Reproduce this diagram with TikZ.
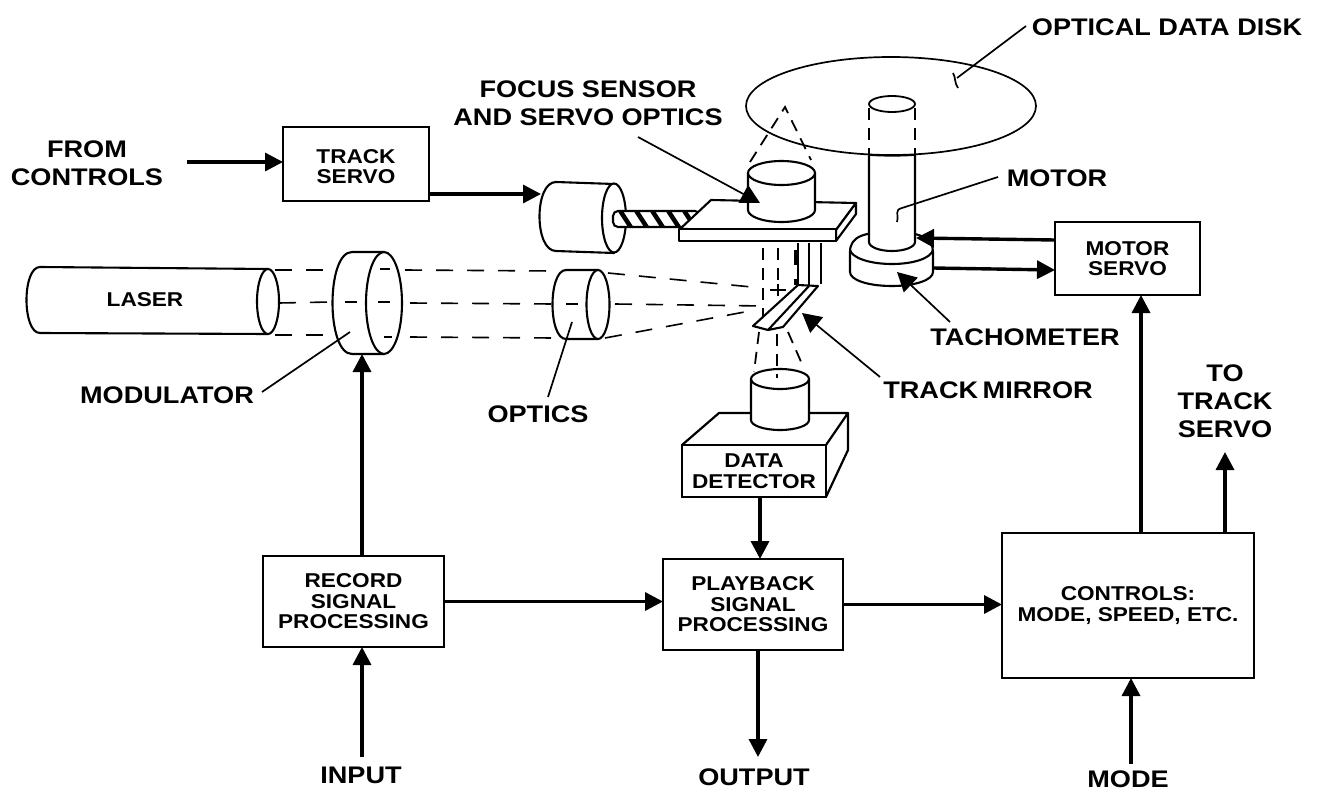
\documentclass[tikz,border=0pt]{standalone}
\usepackage{fontspec}
\setmainfont{Liberation Sans}[BoldFont={Liberation Sans Bold},BoldFeatures={FakeStretch=1.13}]
\usetikzlibrary{arrows.meta}
\newcommand{\bigtxt}{\fontsize{24}{28}\selectfont\bfseries}
\newcommand{\smalltxt}{\fontsize{20}{20.5}\selectfont\bfseries}
\tikzset{
  x=1pt,y=-1pt,
  every node/.style={inner sep=0pt,outer sep=0pt},
  lab/.style={align=center,font=\bigtxt},
  boxed/.style={draw,line width=2.4pt,fill=white,align=center,font=\smalltxt,minimum width=#1},
  flow/.style={line width=3.4pt,-{Triangle[length=18pt,width=18pt]}},
  leader/.style={line width=1.7pt},
  pointer/.style={line width=1.7pt,-{Triangle[length=19pt,width=20pt]}},
  outline/.style={line width=2.1pt,fill=white,line join=round},
  beam/.style={line width=1.6pt,dash pattern=on 17pt off 14pt},
  shortbeam/.style={line width=1.8pt,dash pattern=on 12pt off 8pt},
}
\begin{document}
\begin{tikzpicture}
\useasboundingbox (0,0) rectangle (1318,792);

% Boxes
\node[boxed=146pt,minimum height=74pt] (ts) at (356,164) {\rule{0pt}{19pt}TRACK\\SERVO};
\node[boxed=145pt,minimum height=73pt] (ms) at (1127.5,258.5) {MOTOR\\SERVO};
\node[boxed=181pt,minimum height=91pt] (rec) at (353.5,601.5) {RECORD\\SIGNAL\\PROCESSING};
\node[boxed=180pt,minimum height=91pt] (pb) at (753,604.5) {PLAYBACK\\SIGNAL\\PROCESSING};
\node[boxed=252pt,minimum height=145pt] (ctl) at (1128,605.5) {CONTROLS:\\MODE, SPEED, ETC.};

% Text labels
\node[lab] (fc) at (87,163) {FROM\\CONTROLS};
\node[lab] (fs) at (588,103) {FOCUS SENSOR\\AND SERVO OPTICS};
\node[lab] (odd) at (1167,27) {OPTICAL DATA DISK};
\node[lab] (mot) at (1057,178) {MOTOR};
\node[lab] (tach) at (1025,337) {TACHOMETER};
\node[lab] (tm) at (988,390) {TRACK\hspace{-3pt} MIRROR};
\node[lab] (opt) at (538,414) {OPTICS};
\node[lab] (modl) at (167,395) {MODULATOR};
\node[lab] (tts) at (1225,401) {TO\\TRACK\\SERVO};
\node[lab] (inp) at (361,775) {INPUT};
\node[lab] (outp) at (754,777) {OUTPUT};
\node[lab] (mode) at (1128,779) {MODE};

% Laser
\draw[outline] (268,269) -- (40,267) .. controls (22,267) and (22,333) .. (40,333) -- (268,334);
\draw[outline] (268,301.5) ellipse [x radius=11,y radius=32.5];
\node[font=\smalltxt] (las) at (145,300) {LASER};

% Modulator
\draw[outline] (352,252) -- (384,252) -- (384,354) -- (352,354) .. controls (326,354) and (326,252) .. (352,252) -- cycle;
\draw[line width=2.1pt,fill=white] (384,303) ellipse [x radius=18,y radius=51];

% Optics
\draw[outline] (566,270) -- (598,270) -- (598,339) -- (566,339) .. controls (548,339) and (548,270) .. (566,270) -- cycle;
\draw[line width=2.1pt,fill=white] (598,304.5) ellipse [x radius=11.5,y radius=34.5];

% Beams
\draw[beam] (275,270) -- (335,270);
\draw[beam] (279,303) -- (330,302);
\draw[beam] (275,335) -- (330,335);
\draw[shortbeam] (380,269) -- (390,269);
\draw[shortbeam] (345,302) -- (360,302);
\draw[shortbeam] (378,302) -- (394,302);
\draw[shortbeam] (384,337) -- (392,337);
\draw[beam] (405,270) -- (553,271);
\draw[beam] (410,303) -- (553,304);
\draw[beam] (410,337) -- (553,338);
\draw[shortbeam] (566,304) -- (578,304);
\draw[beam] (608,273) -- (762,288);
\draw[beam] (615,304) -- (764,306);
\draw[beam] (605,338) -- (750,311);
\draw[line width=1.8pt] (770,290) -- (786,290) (778,284) -- (778,296);

% Motor cylinder and lead screw
\draw[outline] (556,182) -- (614,184) -- (614,253) -- (556,251) .. controls (534,251) and (534,182) .. (556,182) -- cycle;
\draw[line width=2.1pt,fill=white] (614,218) ellipse [x radius=12,y radius=34.5];
\draw[line width=2.1pt,fill=white,rounded corners=5pt] (613,211) rectangle (700,227);
\begin{scope}
\clip (613,211) rectangle (700,227);
\foreach \sx in {619,635,651,667,683}
  \draw[line width=4.5pt] (\sx,209) -- (\sx+13,229);
\end{scope}

% Platform
\draw[outline] (680,229) -- (711,200) -- (856,203) -- (836,230) -- cycle;
\draw[outline] (836,230) -- (856,203) -- (856,214) -- (836,241) -- cycle;
\draw[outline] (679,229) rectangle (836,241);

% Upper lens
\draw[outline] (748,173) -- (748,210) arc[start angle=180,end angle=0,x radius=33.5,y radius=12] -- (815,173);
\draw[line width=2.1pt,fill=white] (781.5,173) ellipse [x radius=33.5,y radius=12];
\draw[shortbeam] (750,162) -- (785,107) -- (811,160);

% Track mirror
\draw[line width=2.1pt] (798,243) -- (798,284) (809,243) -- (809,286) (821,243) -- (821,284);
\draw[outline] (753,326) -- (798,285) -- (818,286) -- (783,327) -- (768,330) -- cycle;
\draw[line width=2.1pt] (809,286) -- (768,330);
\draw[line width=3pt] (795,250) -- (795,265) (795,279) -- (795,285);
\draw[shortbeam] (763,248) -- (763,316);
\draw[shortbeam] (778,248) -- (778,282);

% Detector optics
\draw[shortbeam] (759,332) -- (754,372);
\draw[shortbeam] (777,334) -- (777,378);
\draw[shortbeam] (788,332) -- (802,364);
\draw[outline] (751,379) -- (751,420) arc[start angle=180,end angle=0,x radius=29,y radius=10] -- (809,379);
\draw[line width=2.1pt,fill=none] (780,379) ellipse [x radius=29,y radius=10];

% Data detector
\draw[line width=2.2pt,line join=round] (751,413) -- (719,413) -- (682,445);
\draw[line width=2.2pt,line join=round] (809,413) -- (848,413) -- (826,445);
\draw[line width=2.2pt] (848,413) -- (848,450) -- (826,497);
\node[draw,line width=2.4pt,fill=white,minimum width=144pt,minimum height=52pt,align=center,font=\smalltxt] (dd) at (754,471) {DATA\\DETECTOR};

% Disk and spindle
\draw[line width=1.7pt] (891,106) ellipse [x radius=145,y radius=49];
\draw[shortbeam] (869,108) -- (869,154);
\draw[shortbeam] (915,108) -- (915,154);
\draw[line width=1.8pt,fill=white] (892,104) ellipse [x radius=23,y radius=8];
\draw[outline] (850,252) .. controls (850,236) and (865,232) .. (892,232) .. controls (920,232) and (933,238) .. (933,252) -- (933,272) .. controls (933,280) and (915,286) .. (892,286) .. controls (868,286) and (850,280) .. (850,272) -- cycle;
\draw[line width=2.1pt] (850,250) .. controls (852,258) and (870,264) .. (892,264) .. controls (914,264) and (931,258) .. (933,250);
\draw[outline] (869,155) -- (869,242) arc[start angle=180,end angle=0,x radius=23,y radius=9] -- (915,155);
\draw[line width=1.7pt] (869,155) .. controls (885,156) and (900,156) .. (915,155);

% Coordinates on the drawn shapes
\coordinate (cyl) at (541,194);
\coordinate (modb) at (362,354);
\coordinate (fct) at (187,162);
\coordinate (mtr) at (916,238);
\coordinate (bse) at (933,268);
\coordinate (inS) at (362,757);
\coordinate (modeS) at (1131,764);
\coordinate (outE) at (758,757);
\coordinate (ttsE) at (1225,452);

% Flow arrows
\draw[flow] (fct) -- (fct -| ts.west);
\draw[flow] (ts.east |- cyl) -- (cyl);
\draw[flow] (rec.north -| modb) -- (modb);
\draw[flow] (rec.east) -- (pb.west |- rec.east);
\draw[flow] (pb.east) -- (ctl.west |- pb.east);
\draw[flow] (dd.south -| 760,0) -- (pb.north -| 760,0);
\draw[flow] (inS) -- (rec.south -| inS);
\draw[flow] (pb.south -| outE) -- (outE);
\draw[flow] (modeS) -- (ctl.south -| modeS);
\draw[flow] (ctl.north -| 1141,0) -- (ms.south -| 1141,0);
\draw[flow] (ctl.north -| ttsE) -- (ttsE);
\draw[flow] (ms.west |- 0,240) -- (mtr);
\draw[flow] (bse) -- (ms.west |- 0,270);

% Pointers and leaders
\coordinate (fsT) at (760,203);
\coordinate (fsS) at (638,137);
\draw[pointer] (fsS) -- (fsT);
\coordinate (tmT) at (802,313);
\coordinate (tmS) at (880,377);
\draw[pointer] (tmS) -- (tmT);
\coordinate (taT) at (897,272);
\coordinate (taS) at (950,322);
\draw[pointer] (taS) -- (taT);
\coordinate (oddS) at (1026,26);
\coordinate (oddT) at (957,78);
\draw[leader] (oddS) -- (oddT);
\draw[leader] (953,73) .. controls (956,78) and (954,82) .. (958,88);
\coordinate (motS) at (998,177);
\coordinate (motT) at (902,208);
\draw[leader] (motS) -- (motT) .. controls (894,210) and (899,214) .. (897,222);
\coordinate (optS) at (548,397);
\coordinate (optT) at (572,322);
\draw[leader] (optS) -- (optT);
\coordinate (modS) at (262,392);
\coordinate (modT) at (350,332);
\draw[leader] (modS) -- (modT);
\end{tikzpicture}
\end{document}
